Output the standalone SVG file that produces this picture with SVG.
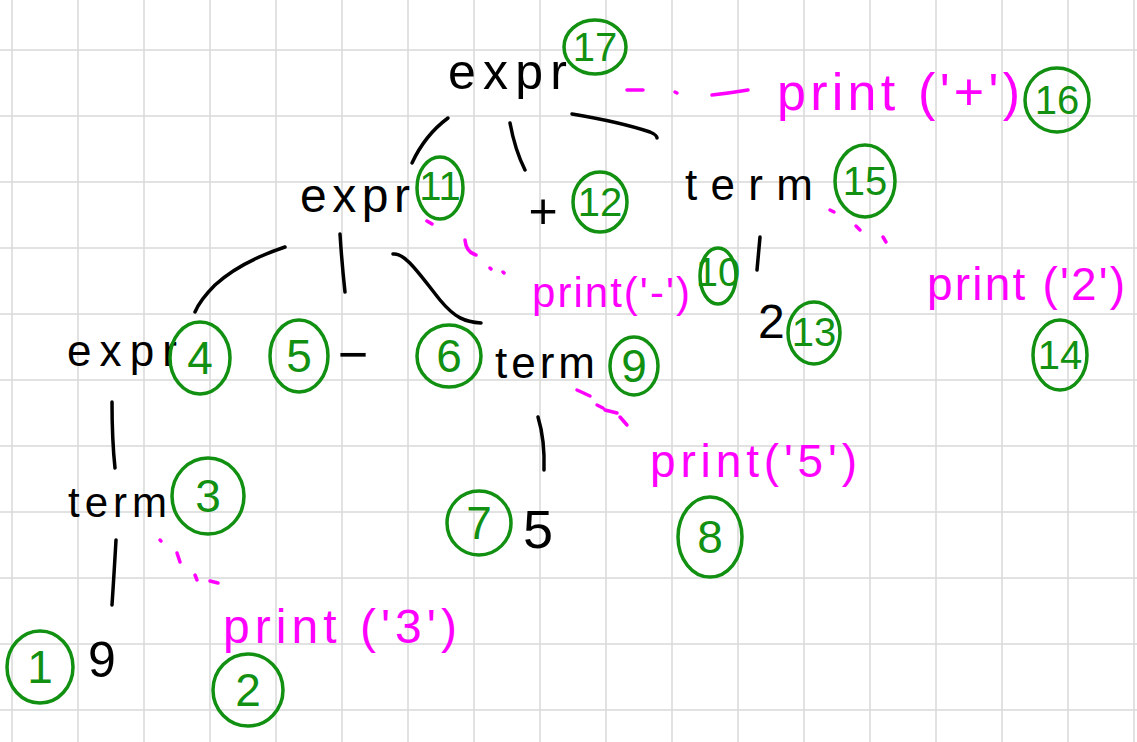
<svg xmlns="http://www.w3.org/2000/svg" width="1137" height="742" viewBox="0 0 1137 742">
<style>
.grid{stroke:#d9d9d9;stroke-width:1.5;fill:none}
.edge{stroke:#000;stroke-width:3.5;fill:none;stroke-linecap:round}
.lead{stroke:#ff00ff;stroke-width:3.5;fill:none;stroke-linecap:round}
.lbl{font-family:"Liberation Sans",Arial,sans-serif;fill:#000}
.act{font-family:"Liberation Sans",Arial,sans-serif;fill:#ff00ff}
.ring{stroke:#119011;stroke-width:3.5;fill:none}
.num{font-family:"Liberation Sans",Arial,sans-serif;fill:#119011;font-size:40px;text-anchor:middle}
.one{font-size:46px}
</style>
<rect width="1137" height="742" fill="#fff"/>
<path class="grid" d="M12 0V742M78 0V742M144 0V742M210 0V742M276 0V742M342 0V742M408 0V742M474 0V742M540 0V742M606 0V742M672 0V742M738 0V742M804 0V742M870 0V742M936 0V742M1002 0V742M1068 0V742M1134 0V742M0 50H1137M0 116H1137M0 182H1137M0 248H1137M0 314H1137M0 380H1137M0 446H1137M0 512H1137M0 578H1137M0 644H1137M0 710H1137"/>

<g id="connectors">
<path class="edge" d="M448,118 Q425,135 412,163"/>
<path class="edge" d="M510,123 Q515,150 525,170"/>
<path class="edge" d="M572,114 Q620,122 650,132 Q657,135 657,138"/>
<path class="edge" d="M285,247 Q240,262 215,285 Q200,300 195,312"/>
<path class="edge" d="M340,234 Q342,265 345,292"/>
<path class="edge" d="M393,254 C405,252 420,275 440,300 C455,318 465,322 481,323"/>
<path class="edge" d="M760,237 L757,270"/>
<path class="edge" d="M112,402 Q112,440 115,468"/>
<path class="edge" d="M538,417 Q545,440 544,470"/>
<path class="edge" d="M116,540 Q114,575 112,605"/>
<path class="lead" d="M627,90L643,90M675,92L677,93M712,95Q730,93 748,90"/>
<path class="lead" d="M830,210L834,212M856,226L860,230M883,237L886,242"/>
<path class="lead" d="M427,221L432,224M465,240Q466,252 476,255M490,268L491,269M503,272L504,273"/>
<path class="lead" d="M577,390L590,396M597,405L603,408M605,410L617,413M620,417L627,425"/>
<path class="lead" d="M160,540L161,541M177,553L180,562M195,575L197,580M210,581L218,583"/>
</g>

<g id="n17"><text class="lbl" x="448" y="89" font-size="50" textLength="119" lengthAdjust="spacing">expr</text><ellipse class="ring" cx="595" cy="47" rx="31" ry="27"/><text class="num" x="595" y="61">17</text></g>
<g id="n16"><text class="act" x="777" y="110" font-size="52" textLength="243" lengthAdjust="spacing">print ('+')</text><ellipse class="ring" cx="1057" cy="100" rx="32" ry="32"/><text class="num" x="1057" y="114">16</text></g>
<g id="n11"><text class="lbl" x="300" y="212" font-size="48" textLength="110" lengthAdjust="spacing">expr</text><ellipse class="ring" cx="440" cy="188" rx="23" ry="31"/><text class="num" x="440" y="200" font-size="32">11</text></g>
<g id="n12"><text class="lbl" x="543" y="228" font-size="50" text-anchor="middle">+</text><ellipse class="ring" cx="600" cy="202" rx="27" ry="30"/><text class="num" x="600" y="216">12</text></g>
<g id="n15"><text class="lbl" x="685" y="200" font-size="44" textLength="128" lengthAdjust="spacing">term</text><ellipse class="ring" cx="865" cy="181" rx="30" ry="36"/><text class="num" x="865" y="195">15</text></g>
<g id="n14"><text class="act" x="927" y="300" font-size="46" textLength="198" lengthAdjust="spacing">print ('2')</text><ellipse class="ring" cx="1060" cy="355" rx="27" ry="35"/><text class="num" x="1060" y="369">14</text></g>
<g id="n13"><text class="lbl" x="758" y="338" font-size="48">2</text><ellipse class="ring" cx="814" cy="333" rx="26" ry="31"/><text class="num" x="814" y="346" font-size="36">13</text></g>
<g id="n10"><text class="act" x="532" y="307" font-size="42" textLength="158" lengthAdjust="spacing">print('-')</text><ellipse class="ring" cx="718" cy="276" rx="18" ry="28"/><text class="num" x="718" y="286" font-size="28">10</text></g>
<g id="n4"><text class="lbl" x="67" y="366" font-size="44" textLength="110" lengthAdjust="spacing">expr</text><ellipse class="ring" cx="200" cy="358" rx="30" ry="36"/><text class="num one" x="200" y="374">4</text></g>
<g id="n5"><ellipse class="ring" cx="299" cy="356" rx="29" ry="36"/><text class="num one" x="299" y="372">5</text><text class="lbl" x="353" y="372" font-size="52" text-anchor="middle">−</text></g>
<g id="n6"><ellipse class="ring" cx="449" cy="356" rx="32" ry="31"/><text class="num one" x="449" y="372">6</text></g>
<g id="n9"><text class="lbl" x="495" y="378" font-size="44" textLength="100" lengthAdjust="spacing">term</text><ellipse class="ring" cx="634" cy="366" rx="24" ry="29"/><text class="num one" x="634" y="382">9</text></g>
<g id="n8"><text class="act" x="650" y="477" font-size="46" textLength="207" lengthAdjust="spacing">print('5')</text><ellipse class="ring" cx="710" cy="537" rx="32" ry="40"/><text class="num one" x="710" y="553">8</text></g>
<g id="n7"><ellipse class="ring" cx="479" cy="523" rx="32" ry="32"/><text class="num one" x="479" y="539">7</text><text class="lbl" x="523" y="548" font-size="54">5</text></g>
<g id="n3"><text class="lbl" x="68" y="517" font-size="42" textLength="99" lengthAdjust="spacing">term</text><ellipse class="ring" cx="208" cy="496" rx="36" ry="38"/><text class="num one" x="208" y="512">3</text></g>
<g id="n2"><text class="act" x="223" y="643" font-size="48" textLength="234" lengthAdjust="spacing">print ('3')</text><ellipse class="ring" cx="248" cy="690" rx="35" ry="36"/><text class="num one" x="248" y="706">2</text></g>
<g id="n1"><ellipse class="ring" cx="40" cy="667" rx="33" ry="36"/><text class="num one" x="40" y="683">1</text><text class="lbl" x="88" y="677" font-size="50">9</text></g>
</svg>
